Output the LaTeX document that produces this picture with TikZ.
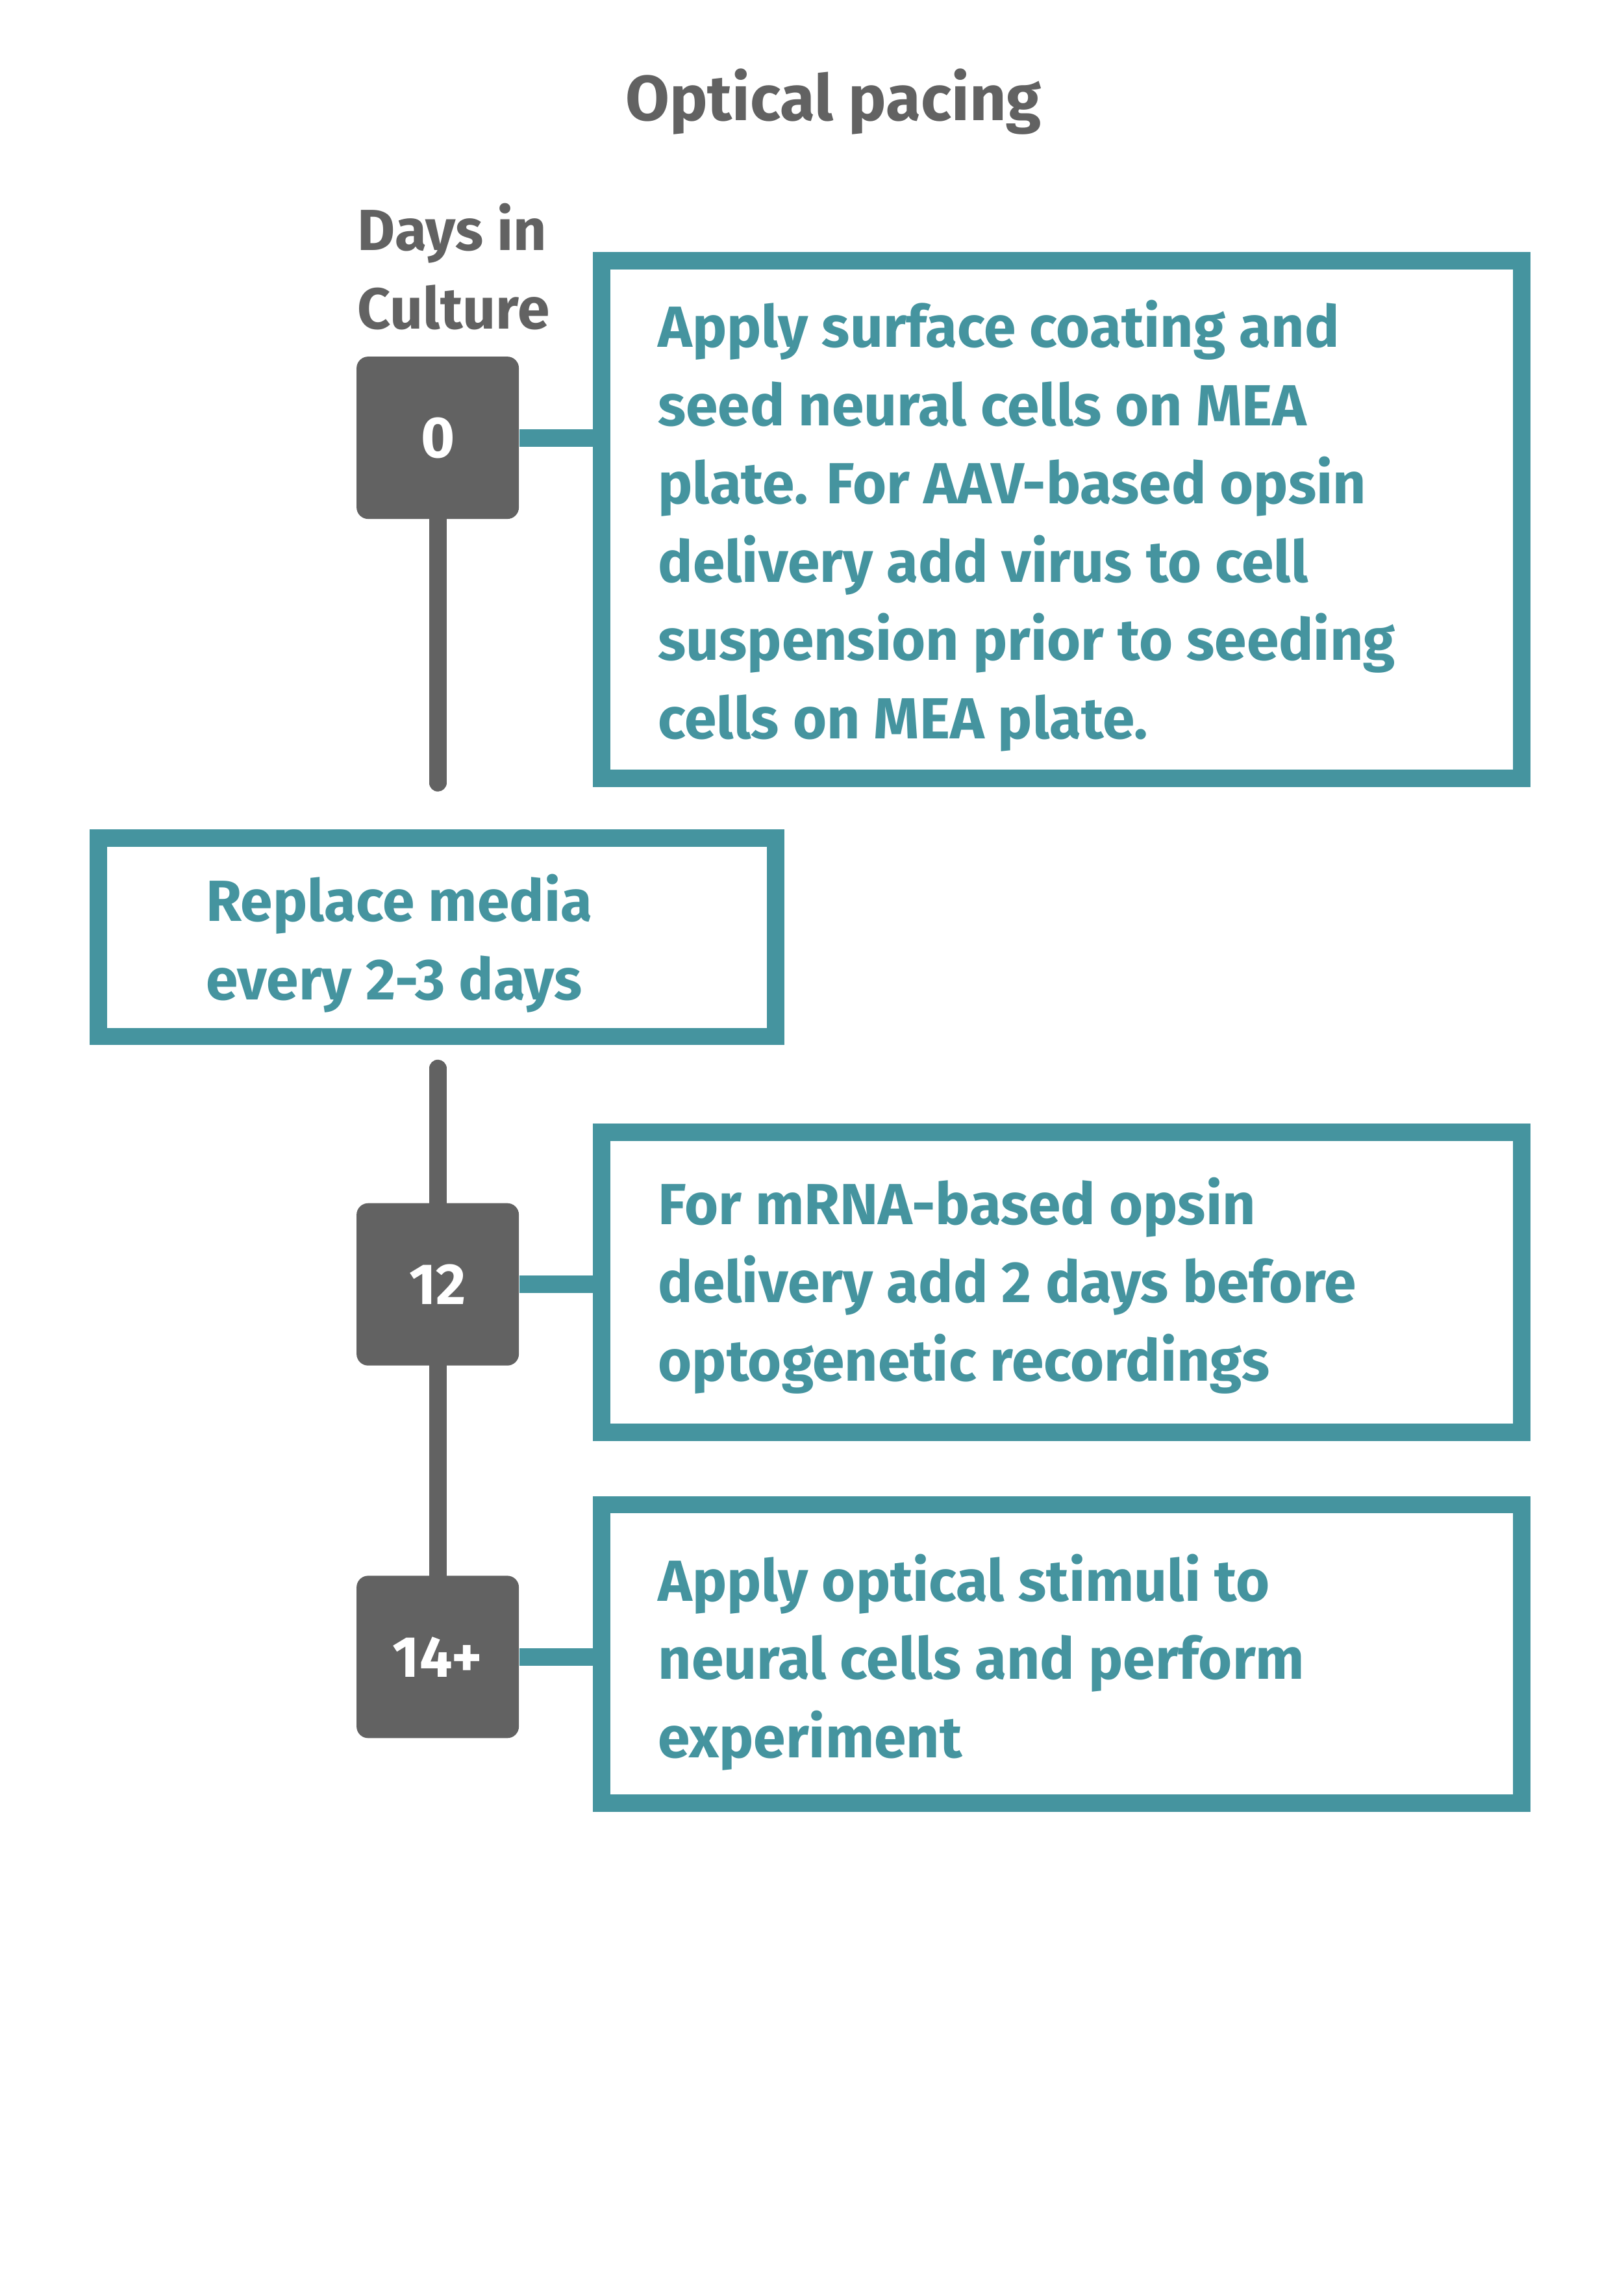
\documentclass[tikz,border=0pt]{standalone}
\usepackage{fontspec}
\setmainfont{Fira Sans}
\definecolor{tealc}{RGB}{69,148,159}
\definecolor{greybox}{RGB}{98,98,98}
\tikzset{
  day/.style={fill=greybox,rounded corners=4pt,minimum size=56pt,text=white,font=\bfseries\fontsize{20}{24}\selectfont,inner sep=0pt},
  stepbox/.style={draw=tealc,line width=6pt},
  steptext/.style={text=tealc,font=\bfseries\fontsize{20}{27}\selectfont,align=left,anchor=north west},
  link/.style={draw=tealc,line width=6pt},
  stem/.style={draw=greybox,line width=6pt,line cap=round}
}
\begin{document}
\begin{tikzpicture}[x=0.5pt,y=-0.5pt]
\useasboundingbox (0,0) rectangle (1120,1568);
%title
\node[text=greybox,font=\bfseries\fontsize{22}{26}\selectfont] (title) at (575,70) {Optical pacing};
\node[text=greybox,font=\bfseries\fontsize{20}{27}\selectfont,align=left] (daysin) at (313,184) {Days in\\Culture};
%day markers
\node[day] (d0) at (302,302) {0};
\node[day] (d12) at (302,886) {12};
\node[day] (d14) at (302,1143) {14+};
%boxes
\draw[stepbox] (415,180) rectangle (1050,537);
\node[steptext] (s0) at (447,200) {Apply surface coating and\\seed neural cells on MEA\\plate. For AAV-based opsin\\delivery add virus to cell\\suspension prior to seeding\\cells on MEA plate.};
\draw[stepbox] (68,578) rectangle (535,715);
\node[steptext] (media) at (135,596) {Replace media\\every 2-3 days};
\draw[stepbox] (415,781) rectangle (1050,988);
\node[steptext] (s12) at (447,805) {For mRNA-based opsin\\delivery add 2 days before\\optogenetic recordings};
\draw[stepbox] (415,1038) rectangle (1050,1244);
\node[steptext] (s14) at (447,1065) {Apply optical stimuli to\\neural cells and perform\\experiment};
%connectors
\coordinate (e0) at (412,302);
\coordinate (e12) at (412,886);
\coordinate (e14) at (412,1143);
\draw[link] (d0.east) -- (e0);
\draw[link] (d12.east) -- (e12);
\draw[link] (d14.east) -- (e14);
\coordinate (t0) at (302,540);
\coordinate (t1) at (302,737);
\draw[stem] (d0.south) -- (t0);
\draw[stem] (t1) -- (d12.north);
\draw[stem] (d12.south) -- (d14.north);
\end{tikzpicture}
\end{document}
